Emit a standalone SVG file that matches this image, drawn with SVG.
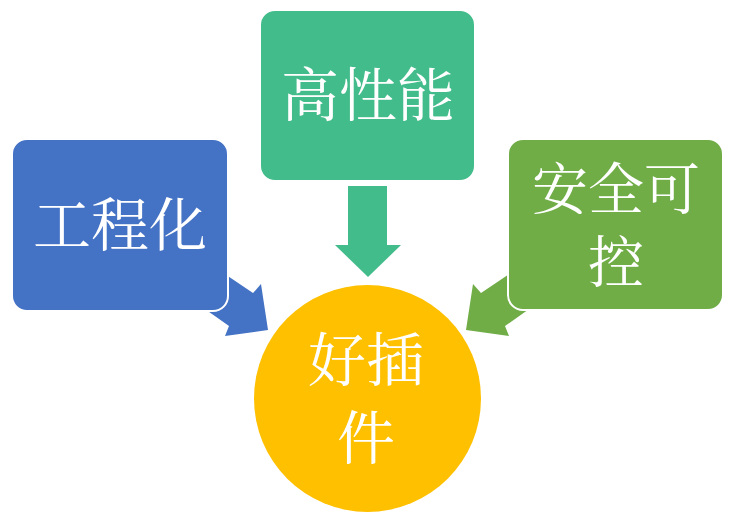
<svg xmlns="http://www.w3.org/2000/svg" width="736" height="522" viewBox="0 0 736 522">
  <style>
    .box { stroke: #ffffff; stroke-width: 2; }
    .lbl { fill: #ffffff; font-family: "Noto Serif CJK SC", "Noto Sans CJK SC", sans-serif; font-size: 58px; text-anchor: middle; }
  </style>
  <rect width="736" height="522" fill="#ffffff"/>
  <g id="connectors">
    <polygon id="arrow-top" points="348,186 387,186 387,245 401,245 368,277 335,245 348,245" fill="#43BC8B"/>
    <polygon id="arrow-left" points="210,264 253,293 261,284 268,330 225,336 229,326 195,302" fill="#4472C4"/>
    <polygon id="arrow-right" points="524,264 481,293 473,284 466,330 509,336 505,326 539,302" fill="#70AD47"/>
  </g>
  <g id="node-engineering">
    <rect class="box" x="12" y="139" width="216" height="172" rx="15" fill="#4472C4"/>
    <text class="lbl" x="120" y="246">工程化</text>
  </g>
  <g id="node-performance">
    <rect class="box" x="260" y="10" width="215" height="171" rx="15" fill="#43BC8B"/>
    <text class="lbl" x="368" y="116">高性能</text>
  </g>
  <g id="node-security">
    <rect class="box" x="508" y="139" width="215" height="171" rx="15" fill="#70AD47"/>
    <text class="lbl" x="616" y="209" style="font-size:56px">安全可<tspan x="616" dy="73">控</tspan></text>
  </g>
  <g id="node-plugin">
    <circle cx="367.5" cy="398.5" r="113.5" fill="#FFC000"/>
    <text class="lbl" x="366" y="381">好插<tspan x="366" dy="78">件</tspan></text>
  </g>
</svg>
